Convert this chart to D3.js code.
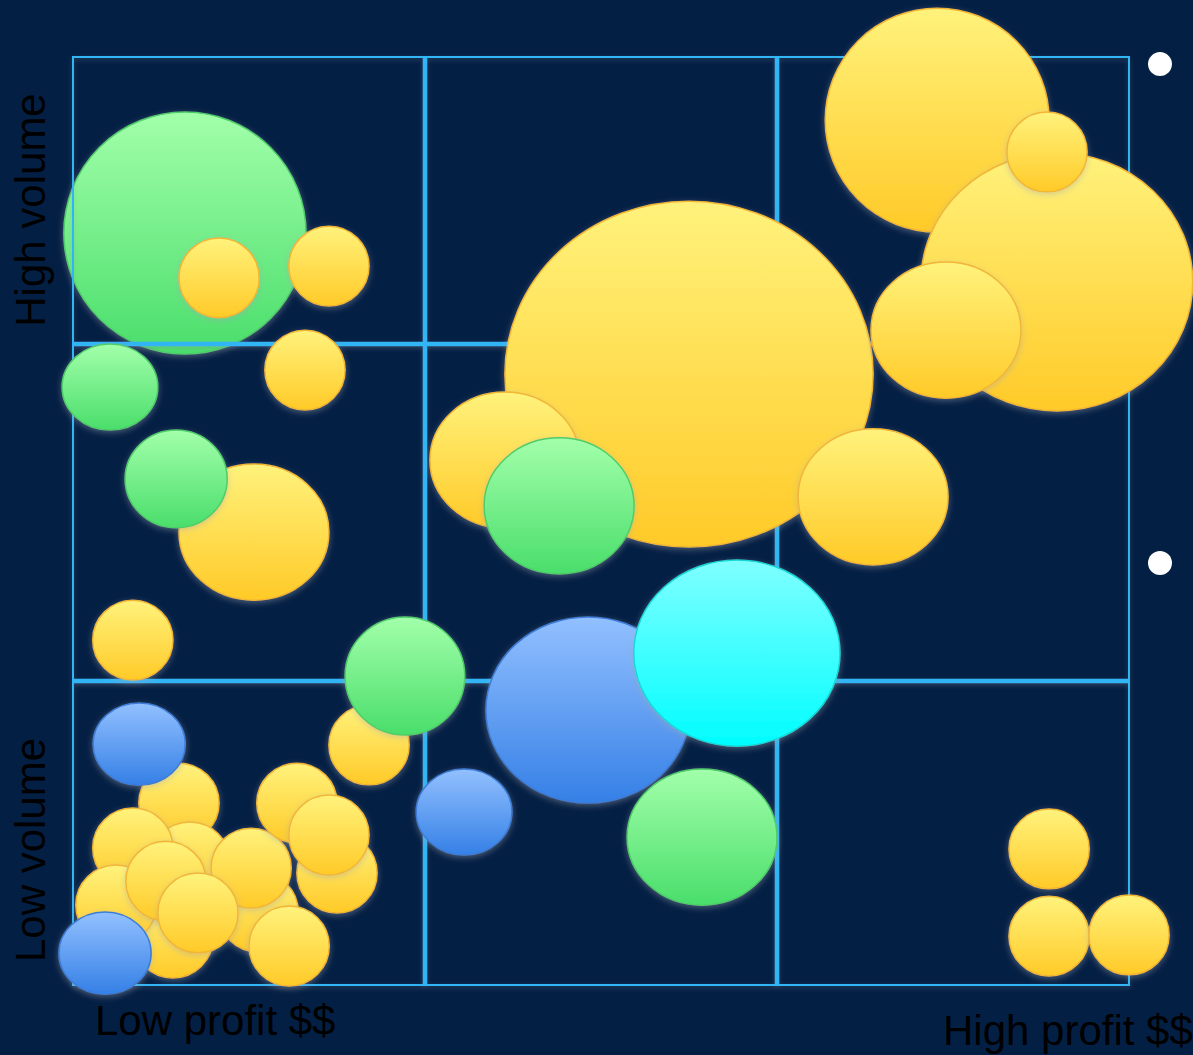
<!DOCTYPE html>
<html>
<head>
<meta charset="utf-8">
<script src="https://cdn.jsdelivr.net/npm/d3@7"></script>
<style>
  html, body { margin: 0; padding: 0; background: #041f44; }
  #chart { width: 1193px; height: 1055px; overflow: hidden; }
  .label { font-family: "Liberation Sans", Arial, sans-serif; font-size: 42px; fill: #000; }
</style>
</head>
<body>
<div id="chart"></div>
<script>
// Bubble data: kind, profit (x), volume (y), and the bubble spread along each axis (same units)
var kinds   = ["green", "yellow", "yellow", "yellow", "green", "yellow", "green", "yellow", "yellow", "green",
               "yellow", "yellow", "green", "yellow", "yellow", "yellow", "yellow", "yellow",
               "blue", "cyan", "blue", "green", "yellow", "yellow", "yellow",
               "yellow", "blue", "yellow", "yellow", "yellow", "yellow", "yellow", "yellow", "yellow",
               "yellow", "yellow", "yellow", "yellow", "yellow", "blue"];
var profit  = [0.318, 0.415, 0.727, 0.659, 0.105, 0.514, 0.293, 0.170, 0.841, 0.943,
               1.750, 1.227, 1.381, 2.273, 2.455, 2.795, 2.767, 2.480,
               1.463, 1.886, 1.111, 1.787, 2.773, 2.773, 3.000,
               0.301, 0.188, 0.332, 0.170, 0.284, 0.122, 0.264, 0.526, 0.506,
               0.355, 0.614, 0.636, 0.750, 0.727, 0.091];
var volume  = [2.431, 2.286, 2.324, 1.988, 1.933, 1.464, 1.636, 1.115, 0.776, 0.999,
               1.975, 1.697, 1.549, 1.578, 2.796, 2.273, 2.693, 2.117,
               0.889, 1.073, 0.559, 0.478, 0.440, 0.158, 0.162,
               0.588, 0.779, 0.398, 0.443, 0.152, 0.259, 0.336, 0.236, 0.378,
               0.233, 0.126, 0.588, 0.362, 0.485, 0.103];
var spreadX = [0.344, 0.114, 0.114, 0.114, 0.136, 0.213, 0.145, 0.114, 0.114, 0.170,
               0.523, 0.213, 0.213, 0.213, 0.318, 0.386, 0.114, 0.213,
               0.290, 0.293, 0.136, 0.213, 0.114, 0.114, 0.114,
               0.114, 0.131, 0.114, 0.114, 0.114, 0.114, 0.114, 0.114, 0.114,
               0.114, 0.114, 0.114, 0.114, 0.114, 0.131];
var spreadY = [0.391, 0.129, 0.129, 0.129, 0.139, 0.220, 0.158, 0.129, 0.129, 0.191,
               0.559, 0.220, 0.220, 0.220, 0.362, 0.417, 0.129, 0.220,
               0.301, 0.301, 0.139, 0.220, 0.129, 0.129, 0.129,
               0.129, 0.133, 0.129, 0.129, 0.129, 0.129, 0.129, 0.129, 0.129,
               0.129, 0.129, 0.129, 0.129, 0.129, 0.133];
// bubbles that sit underneath the grid lines
var belowGrid = [0];

// Grid dividers (profit bands are even, volume bands are not) and labels
var profitDividers = [1, 2];
var volumeDividers = [0.983, 2.072];
var yLabels = ["High volume", "Low volume"];
var xLabels = ["Low profit $$", "High profit $$"];
var legendMarks = [2.977, 1.364];

var width = 1193;
var height = 1055;

var colors = {
    yellow: { top: "#fff27c", bottom: "#ffca28", stroke: "#f2b632" },
    green:  { top: "#a2ffaa", bottom: "#4ade6b", stroke: "#4fcc6a" },
    blue:   { top: "#92c0ff", bottom: "#3580e6", stroke: "#3c7dd8" },
    cyan:   { top: "#80ffff", bottom: "#00fdff", stroke: "#14d6d6" }
};

var data = kinds.map(function (k, i) {
    return { kind: k, profit: profit[i], volume: volume[i], sx: spreadX[i], sy: spreadY[i], under: belowGrid.indexOf(i) >= 0 };
});

// Scales
var x = d3.scaleLinear().domain([0, 3]).range([73, 1129]);
var y = d3.scaleLinear().domain([0, 3]).range([985, 57]);

var svg = d3.select("#chart")
    .append("svg")
    .attr("width", width)
    .attr("height", height);

svg.append("rect")
    .attr("width", width)
    .attr("height", height)
    .attr("fill", "#041f44");

var defs = svg.append("defs");

// vertical gradients for each bubble colour
Object.keys(colors).forEach(function (k) {
    var g = defs.append("linearGradient")
        .attr("id", "grad-" + k)
        .attr("x1", 0).attr("y1", 0)
        .attr("x2", 0).attr("y2", 1);
    g.append("stop").attr("offset", "0%").attr("stop-color", colors[k].top);
    g.append("stop").attr("offset", "100%").attr("stop-color", colors[k].bottom);
});

// soft greyish shadow around bubbles
var shadow = defs.append("filter")
    .attr("id", "shadow")
    .attr("x", "-20%").attr("y", "-20%")
    .attr("width", "140%").attr("height", "140%");
shadow.append("feDropShadow")
    .attr("dx", 0).attr("dy", 2)
    .attr("stdDeviation", 3)
    .attr("flood-color", "#a0a8b4")
    .attr("flood-opacity", 0.45);

var lineShadow = defs.append("filter")
    .attr("id", "lineShadow")
    .attr("x", "-5%").attr("y", "-5%")
    .attr("width", "110%").attr("height", "110%");
lineShadow.append("feDropShadow")
    .attr("dx", 0).attr("dy", 2)
    .attr("stdDeviation", 2)
    .attr("flood-color", "#7f8a99")
    .attr("flood-opacity", 0.35);

function drawBubbles(layer, rows) {
    layer.selectAll("ellipse")
        .data(rows)
        .enter().append("ellipse")
        .attr("cx", function (d) { return x(d.profit); })
        .attr("cy", function (d) { return y(d.volume); })
        .attr("rx", function (d) { return x(d.sx) - x(0); })
        .attr("ry", function (d) { return y(0) - y(d.sy); })
        .attr("fill", function (d) { return "url(#grad-" + d.kind + ")"; })
        .attr("stroke", function (d) { return colors[d.kind].stroke; })
        .attr("stroke-width", 1.5)
        .attr("filter", "url(#shadow)");
}

// Bubbles below the grid
drawBubbles(svg.append("g"), data.filter(function (d) { return d.under; }));

// Grid: thin outer frame, heavier inner dividers
var grid = svg.append("g").attr("filter", "url(#lineShadow)");

grid.append("rect")
    .attr("x", x(0))
    .attr("y", y(3))
    .attr("width", x(3) - x(0))
    .attr("height", y(0) - y(3))
    .attr("fill", "none")
    .attr("stroke", "#33b5f5")
    .attr("stroke-width", 2);

grid.selectAll(".vline")
    .data(profitDividers)
    .enter().append("line")
    .attr("class", "vline")
    .attr("x1", function (d) { return x(d); })
    .attr("x2", function (d) { return x(d); })
    .attr("y1", y(3))
    .attr("y2", y(0))
    .attr("stroke", "#33b5f5")
    .attr("stroke-width", 4.5);

grid.selectAll(".hline")
    .data(volumeDividers)
    .enter().append("line")
    .attr("class", "hline")
    .attr("x1", x(0))
    .attr("x2", x(3))
    .attr("y1", function (d) { return y(d); })
    .attr("y2", function (d) { return y(d); })
    .attr("stroke", "#33b5f5")
    .attr("stroke-width", 4.5);

// Bubbles above the grid
drawBubbles(svg.append("g"), data.filter(function (d) { return !d.under; }));

// Legend markers at the right edge
svg.selectAll(".mark")
    .data(legendMarks)
    .enter().append("circle")
    .attr("class", "mark")
    .attr("cx", 1160)
    .attr("cy", function (d) { return y(d); })
    .attr("r", 12)
    .attr("fill", "#fff");

// Axis labels
svg.selectAll(".ylab")
    .data(yLabels)
    .enter().append("text")
    .attr("class", "label ylab")
    .attr("text-anchor", "middle")
    .attr("transform", function (d, i) {
        var cy = i === 0 ? 210 : 850;
        return "translate(45," + cy + ") rotate(-90)";
    })
    .text(function (d) { return d; });

svg.append("text")
    .attr("class", "label")
    .attr("x", 95)
    .attr("y", 1035)
    .text(xLabels[0]);

svg.append("text")
    .attr("class", "label")
    .attr("x", 943)
    .attr("y", 1045)
    .text(xLabels[1]);
</script>
</body>
</html>
